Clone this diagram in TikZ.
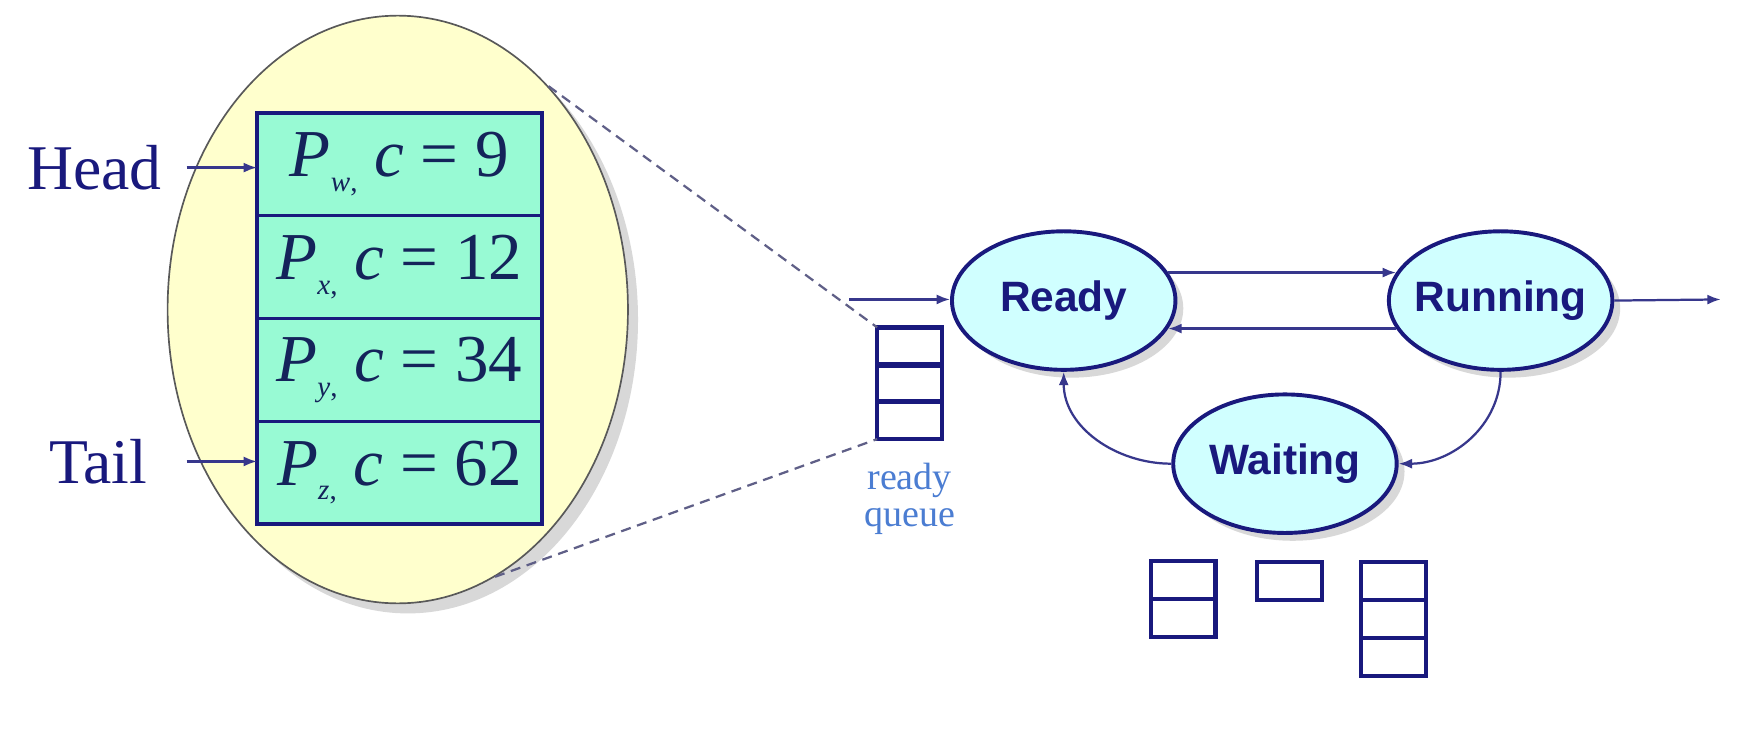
\documentclass[tikz,border=0pt]{standalone}
\usepackage{fontspec}
\setmainfont{Liberation Serif}
\newfontfamily\statefont{Liberation Sans}
\usepackage{xcolor}
\usetikzlibrary{shapes,arrows,positioning,calc,shadows,arrows.meta}

\definecolor{navy}{RGB}{25,25,125}
\definecolor{linkcol}{RGB}{55,55,140}
\definecolor{paleyellow}{RGB}{255,255,205}
\definecolor{mint}{RGB}{152,250,212}
\definecolor{palecyan}{RGB}{208,255,255}
\definecolor{queueblue}{RGB}{75,125,210}
\definecolor{dashgray}{RGB}{95,95,135}
\definecolor{inktext}{RGB}{20,35,90}

\newcommand{\pentry}[2]{\textit{P}\raisebox{-13pt}{\fontsize{26}{26}\selectfont\textit{#1},}\ \textit{c} = #2}

\begin{document}
\begin{tikzpicture}[x=1pt, y=1pt, node distance=0pt,
    state/.style={ellipse, draw=navy, line width=3.5pt, fill=palecyan, inner sep=-25pt,
        minimum width=200pt, minimum height=124pt,
        font=\statefont\bfseries\fontsize{38}{44}\selectfont, text=navy,
        drop shadow={shadow xshift=7pt, shadow yshift=-7pt, fill=black!30}},
    entry/.style={rectangle, draw=navy, line width=3pt, fill=mint, minimum width=255pt, minimum height=92pt,
        outer sep=0pt, font=\fontsize{60}{64}\selectfont, text=inktext},
    cell/.style={rectangle, draw=navy, line width=4pt, minimum width=58pt, minimum height=34pt, outer sep=0pt},
    link/.style={draw=linkcol, line width=2pt, -{Latex[length=12pt,width=9pt]}},
    zoomline/.style={draw=dashgray, line width=2pt, dash pattern=on 9pt off 6pt},
    label/.style={text=navy, font=\fontsize{57}{60}\selectfont, inner sep=0pt}]
    \fill[white] (0,0) rectangle (1568,659);
    \useasboundingbox (0,0) rectangle (1568,659);

    % Zoomed ready queue
    \node[ellipse, draw=black!65, line width=1.5pt, fill=paleyellow, minimum width=412pt, minimum height=526pt,
        drop shadow={shadow xshift=9pt, shadow yshift=-9pt, fill=black!30}] (lens) at (356,382) {};
    \node[entry] (pw) at (357.5,512) {\pentry{w}{9}};
    \node[entry, below=of pw] (px) {\pentry{x}{12}};
    \node[entry, below=of px] (py) {\pentry{y}{34}};
    \node[entry, below=of py] (pz) {\pentry{z}{62}};
    \node[label, anchor=east] (head) at (145,509) {Head};
    \node[label, anchor=east] (tail) at (132,246) {Tail};
    \draw[link, shorten <=22pt] (head.east) -- (head.east -| pw.west);
    \draw[link, shorten <=35pt] (tail.east) -- (tail.east -| pz.west);

    % Ready queue
    \foreach \i in {0,1,2}
        \node[cell] (rq\i) at (814,349-33*\i) {};
    \node[text=queueblue, font=\fontsize{34}{33}\selectfont, align=center, below=18pt of rq2] (rqlabel) {ready\\queue};
    \draw[zoomline] (lens.56) -- (rq0.north west);
    \draw[zoomline] (lens.-70) -- (rq2.south west);

    % States
    \node[state] (ready) at (952,390) {Ready};
    \node[state] (running) at (1343,390) {Running};
    \node[state] (waiting) at (1150,244) {Waiting};
    \coordinate (admit) at (760,391);
    \coordinate (exit) at (1540,391);
    \draw[link] (admit) -- (admit -| ready.west);
    \draw[link] (ready.15) -- (running.165);
    \draw[link] (running.195) -- (ready.-15);
    \draw[link] (running.east) -- (exit);
    \draw[link] (running.south) to[out=-90, in=0] (waiting.east);
    \draw[link] (waiting.west) to[out=180, in=-90] (ready.south);

    % Device queues
    \foreach \i in {0,1}
        \node[cell] (dqa\i) at (1059,140-34*\i) {};
    \node[cell] (dqb0) at (1154,139) {};
    \foreach \i in {0,1,2}
        \node[cell] (dqc\i) at (1247,139-34*\i) {};
\end{tikzpicture}
\end{document}
